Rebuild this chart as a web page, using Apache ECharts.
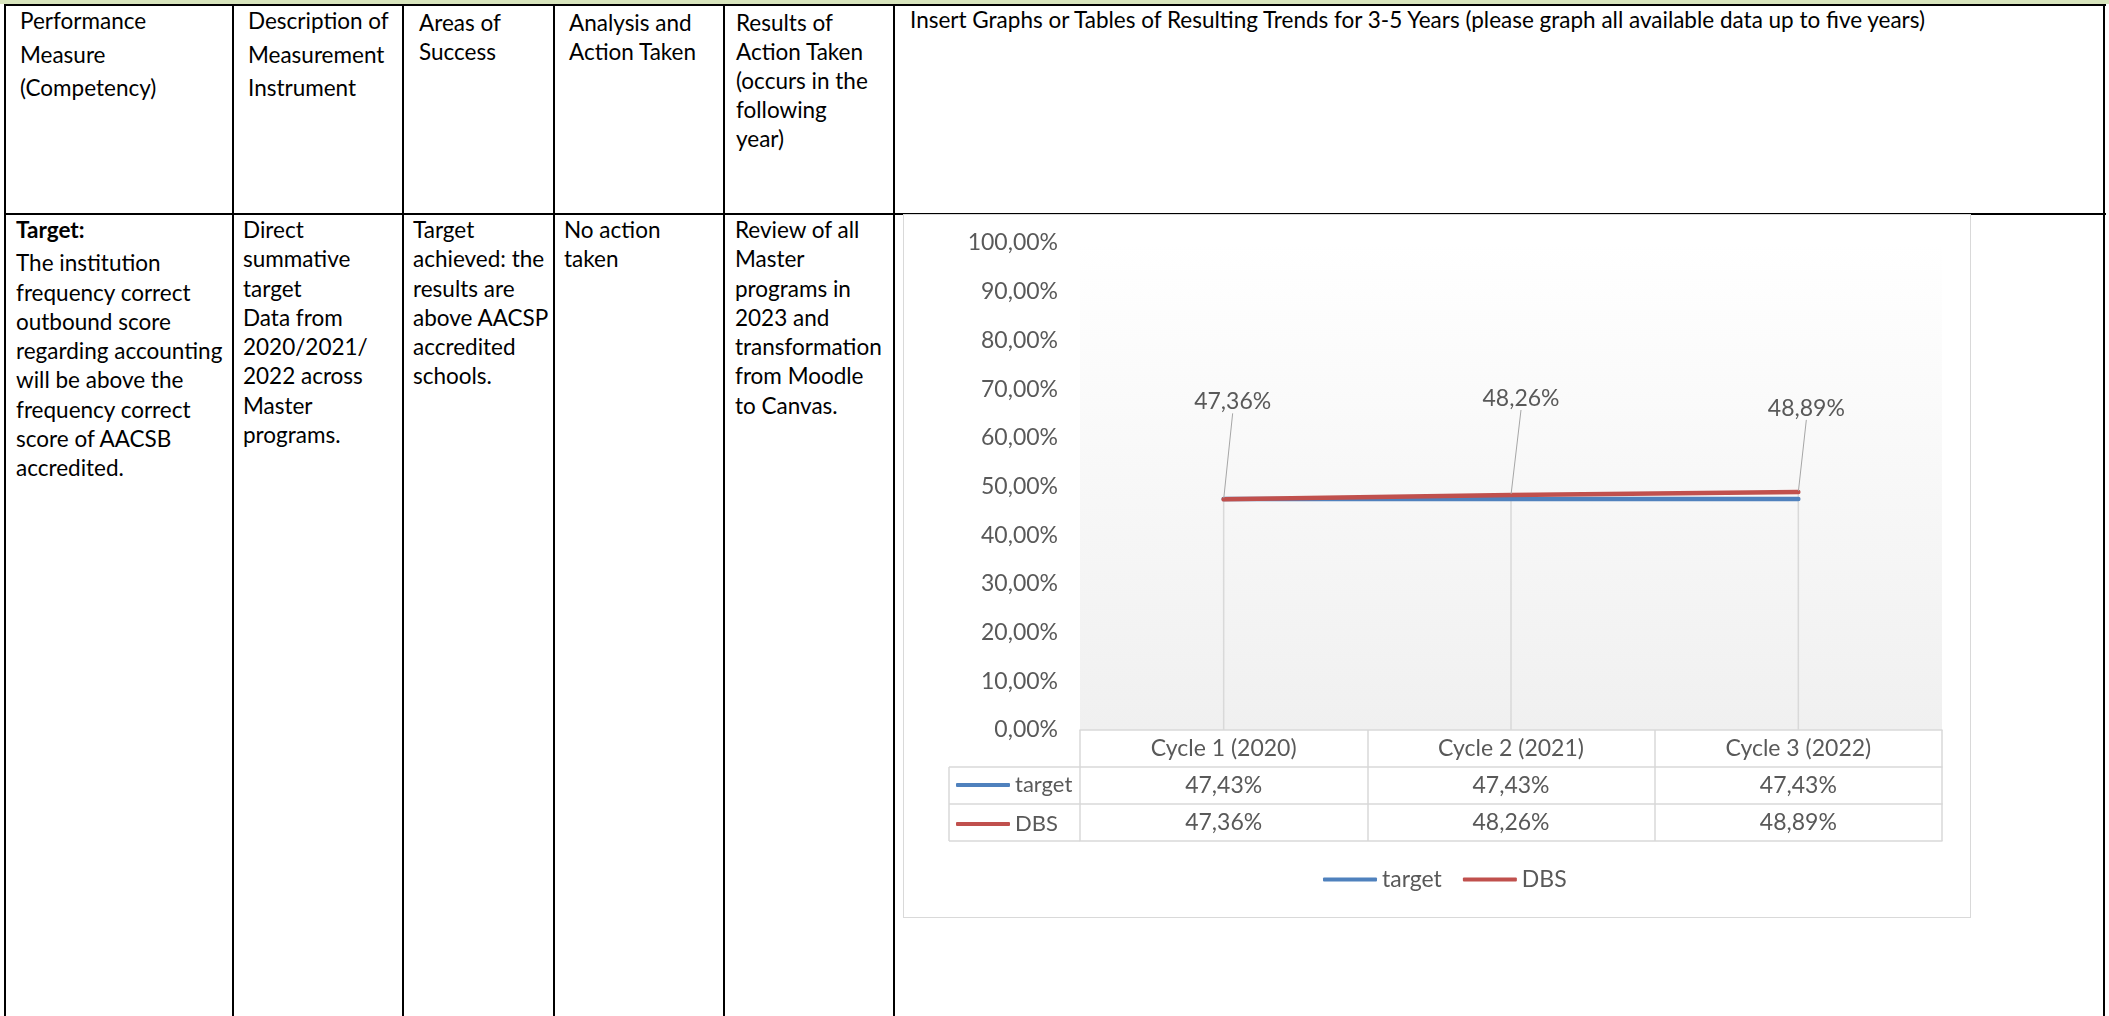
<!DOCTYPE html>
<html>
<head>
<meta charset="utf-8">
<script src="https://cdn.jsdelivr.net/npm/echarts@6/dist/echarts.min.js"></script>
<style>
  html, body { margin: 0; padding: 0; background: #fff; }
  body { width: 2109px; height: 1016px; position: relative; overflow: hidden; font-family: Lato, "Open Sans", sans-serif; color: #000; }
  .band { position: absolute; left: 0; top: 0; width: 2109px; height: 4px; background: #d7e4bc; }
  .hl, .vl { position: absolute; background: #000; }
  .txt { position: absolute; font-size: 22.5px; white-space: nowrap; }
  .head { line-height: 29px; top: 8px; }
  .head.tall { line-height: 33.5px; top: 4px; }
  .body { line-height: 29.3px; top: 215px; }
  #chart { position: absolute; left: 903px; top: 214px; width: 1068px; height: 704px; border: 1px solid #d9d9d9; box-sizing: border-box; background: #fff; }
</style>
</head>
<body>
<div class="band"></div>
<div class="hl" style="left:4px; top:4px; width:2102px; height:2px;"></div>
<div class="hl" style="left:4px; top:213px; width:2102px; height:2px;"></div>
<div class="vl" style="left:4px; top:4px; width:2px; height:1012px;"></div>
<div class="vl" style="left:232px; top:4px; width:2px; height:1012px;"></div>
<div class="vl" style="left:402px; top:4px; width:2px; height:1012px;"></div>
<div class="vl" style="left:553px; top:4px; width:2px; height:1012px;"></div>
<div class="vl" style="left:723px; top:4px; width:2px; height:1012px;"></div>
<div class="vl" style="left:893px; top:4px; width:2px; height:1012px;"></div>
<div class="vl" style="left:2103px; top:4px; width:2px; height:1012px;"></div>

<div class="txt head tall" style="left:20px;">Performance<br>Measure<br>(Competency)</div>
<div class="txt head tall" style="left:248px;">Description of<br>Measurement<br>Instrument</div>
<div class="txt head" style="left:419px;">Areas of<br>Success</div>
<div class="txt head" style="left:569px;">Analysis and<br>Action Taken</div>
<div class="txt head" style="left:736px;">Results of<br>Action Taken<br>(occurs in the<br>following<br>year)</div>
<div class="txt head" style="left:910px; top:5px;">Insert Graphs or Tables of Resulting Trends for 3-5 Years (please graph all available data up to five years)</div>

<div class="txt body" style="left:16px;"><b style="display:block; margin-bottom:4px;">Target:</b>The institution<br>frequency correct<br>outbound score<br>regarding accounting<br>will be above the<br>frequency correct<br>score of AACSB<br>accredited.</div>
<div class="txt body" style="left:243px;">Direct<br>summative<br>target<br>Data from<br>2020/2021/<br>2022 across<br>Master<br>programs.</div>
<div class="txt body" style="left:413px;">Target<br>achieved: the<br>results are<br>above AACSP<br>accredited<br>schools.</div>
<div class="txt body" style="left:564px;">No action<br>taken</div>
<div class="txt body" style="left:735px;">Review of all<br>Master<br>programs in<br>2023 and<br>transformation<br>from Moodle<br>to Canvas.</div>

<div id="chart"></div>

<script>
// chart data
const categories = ['Cycle 1 (2020)', 'Cycle 2 (2021)', 'Cycle 3 (2022)'];
const targetValues = [47.43, 47.43, 47.43];
const dbsValues = [47.36, 48.26, 48.89];
const seriesNames = ['target', 'DBS'];
const yMin = 0;
const yMax = 100;
const yStep = 10;

const fmt = v => Number(v).toFixed(2).replace('.', ',') + '%';

const myChart = echarts.init(document.getElementById('chart'));

// plot area + data table layout (px, inside the chart box)
const gridLeft = 176, gridTop = 28, gridWidth = 862, gridHeight = 487;
const rowH = 37;            // data table row height
const keyLeft = 45;         // left edge of the legend-key column
const gridBottom = gridTop + gridHeight;
const lineColor = '#d9d9d9';
const textColor = '#595959';
const font = 'Lato';
const fs = 23;

// where the DBS labels sit relative to their point (as in the source)
const labelShift = [[9, -80], [10, -79], [8, -66]];

const tableAxis = (offset, values) => ({
    type: 'category',
    data: categories,
    position: 'bottom',
    offset: offset,
    axisLine: { show: true, lineStyle: { color: lineColor, width: 1.5 } },
    axisTick: { show: false },
    splitLine: { show: false },
    axisLabel: {
        show: !!values,
        margin: 7,
        lineHeight: fs,
        fontSize: fs,
        fontFamily: font,
        color: textColor,
        formatter: (v, i) => values ? fmt(values[i]) : ''
    }
});

const option = {
    animation: false,
    textStyle: { fontFamily: font },
    grid: {
        left: gridLeft, top: gridTop, width: gridWidth, height: gridHeight,
        show: true,
        borderWidth: 0,
        backgroundColor: new echarts.graphic.LinearGradient(0, 0, 0, 1, [
            { offset: 0, color: '#ffffff' },
            { offset: 1, color: '#f0f0f0' }
        ])
    },
    legend: [
        {
            data: seriesNames,
            left: 419, top: 653, padding: 0,
            icon: 'roundRect', itemWidth: 54, itemHeight: 4, itemGap: 21,
            selectedMode: false,
            textStyle: { fontSize: fs, color: textColor, fontFamily: font, lineHeight: fs }
        },
        {
            // keys of the data table rows
            data: seriesNames,
            orient: 'vertical',
            left: 52, top: 559, padding: 0,
            icon: 'roundRect', itemWidth: 54, itemHeight: 4, itemGap: 17,
            selectedMode: false,
            textStyle: { fontSize: 22, color: textColor, fontFamily: font, lineHeight: 22 }
        }
    ],
    xAxis: [
        {
            type: 'category',
            data: categories,
            boundaryGap: true,
            axisLine: { show: true, lineStyle: { color: lineColor, width: 1.5 } },
            axisTick: { show: true, length: rowH * 3, lineStyle: { color: lineColor, width: 1.5 } },
            splitLine: { show: false },
            axisLabel: { margin: 7, lineHeight: fs, fontSize: fs, fontFamily: font, color: textColor }
        },
        tableAxis(rowH, targetValues),
        tableAxis(rowH * 2, dbsValues),
        tableAxis(rowH * 3, null)
    ],
    yAxis: {
        type: 'value',
        min: yMin, max: yMax, interval: yStep,
        axisLine: { show: false },
        axisTick: { show: false },
        splitLine: { show: false },
        axisLabel: { formatter: fmt, fontSize: fs, fontFamily: font, color: textColor, margin: 22 }
    },
    graphic: [
        // legend-key column of the data table
        { type: 'line', shape: { x1: keyLeft, y1: gridBottom + rowH, x2: gridLeft, y2: gridBottom + rowH }, style: { stroke: lineColor, lineWidth: 1.5 } },
        { type: 'line', shape: { x1: keyLeft, y1: gridBottom + rowH * 2, x2: gridLeft, y2: gridBottom + rowH * 2 }, style: { stroke: lineColor, lineWidth: 1.5 } },
        { type: 'line', shape: { x1: keyLeft, y1: gridBottom + rowH * 3, x2: gridLeft, y2: gridBottom + rowH * 3 }, style: { stroke: lineColor, lineWidth: 1.5 } },
        { type: 'line', shape: { x1: keyLeft, y1: gridBottom + rowH, x2: keyLeft, y2: gridBottom + rowH * 3 }, style: { stroke: lineColor, lineWidth: 1.5 } }
    ],
    series: [
        {
            // drop lines
            name: 'drop',
            type: 'bar',
            data: categories.map((c, i) => Math.max(targetValues[i], dbsValues[i])),
            barWidth: 1.5,
            itemStyle: { color: lineColor },
            silent: true,
            z: 1
        },
        {
            name: seriesNames[0],
            type: 'line',
            data: targetValues,
            showSymbol: false,
            color: '#4F81BD',
            lineStyle: { color: '#4F81BD', width: 4.5, cap: 'round' },
            z: 3
        },
        {
            name: seriesNames[1],
            type: 'line',
            data: dbsValues,
            showSymbol: true,
            symbol: 'circle',
            symbolSize: 2,
            color: '#C0504D',
            lineStyle: { color: '#C0504D', width: 4.5, cap: 'round' },
            label: {
                show: true,
                position: 'top',
                formatter: p => fmt(p.value),
                fontSize: fs,
                fontFamily: font,
                color: textColor
            },
            labelLine: { show: true, lineStyle: { color: '#a6a6a6', width: 1 } },
            labelLayout: p => ({ dx: labelShift[p.dataIndex][0], dy: labelShift[p.dataIndex][1] }),
            z: 4
        }
    ]
};

myChart.setOption(option);
</script>
</body>
</html>
